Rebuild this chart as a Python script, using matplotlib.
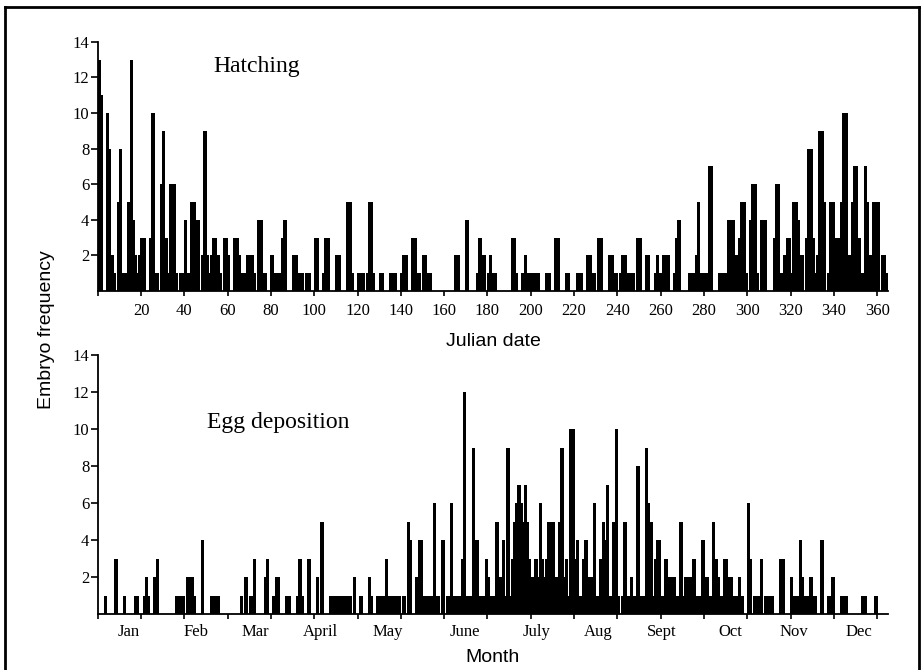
import matplotlib.pyplot as plt
import numpy as np
from matplotlib.lines import Line2D

# daily counts, day 1 .. 365
hatching = [
    13, 11, 0, 0, 10, 8, 2, 1, 0, 5,
    8, 1, 1, 1, 5, 13, 4, 2, 1, 2,
    3, 3, 0, 0, 3, 10, 1, 1, 0, 6,
    9, 3, 1, 6, 6, 6, 1, 0, 1, 1,
    4, 1, 1, 5, 5, 4, 4, 0, 2, 9,
    2, 1, 2, 3, 3, 2, 1, 0, 3, 3,
    2, 0, 0, 3, 3, 2, 1, 1, 1, 2,
    2, 2, 1, 0, 4, 4, 1, 1, 0, 0,
    2, 1, 1, 1, 1, 3, 4, 0, 0, 0,
    2, 2, 0, 1, 1, 0, 1, 1, 0, 0,
    3, 3, 0, 0, 1, 3, 3, 0, 0, 0,
    2, 2, 0, 0, 0, 5, 5, 1, 0, 0,
    1, 1, 1, 0, 1, 5, 5, 1, 0, 0,
    1, 1, 0, 0, 0, 1, 1, 1, 0, 0,
    1, 2, 2, 0, 0, 3, 3, 1, 1, 0,
    2, 2, 1, 1, 0, 0, 0, 0, 0, 0,
    0, 0, 0, 0, 0, 2, 2, 0, 0, 0,
    4, 0, 0, 0, 0, 1, 3, 2, 2, 0,
    1, 2, 1, 1, 0, 0, 0, 0, 0, 0,
    0, 3, 3, 1, 0, 0, 1, 2, 1, 1,
    1, 1, 1, 1, 0, 0, 0, 1, 1, 0,
    0, 3, 3, 0, 0, 0, 1, 1, 0, 0,
    0, 1, 1, 1, 0, 0, 2, 2, 1, 1,
    0, 3, 3, 0, 0, 0, 2, 2, 1, 1,
    0, 1, 2, 2, 1, 1, 1, 1, 0, 3,
    3, 0, 0, 2, 2, 0, 0, 1, 2, 1,
    1, 2, 2, 2, 0, 0, 1, 3, 4, 0,
    0, 0, 0, 1, 1, 1, 2, 5, 1, 1,
    0, 1, 7, 7, 0, 0, 0, 1, 1, 1,
    1, 4, 4, 4, 2, 2, 3, 5, 5, 1,
    0, 4, 6, 6, 1, 0, 4, 4, 4, 0,
    0, 0, 3, 6, 6, 1, 0, 2, 3, 3,
    1, 5, 5, 4, 2, 2, 0, 3, 8, 8,
    3, 1, 2, 9, 9, 5, 0, 1, 5, 5,
    1, 3, 3, 5, 10, 10, 1, 2, 5, 7,
    7, 3, 1, 1, 7, 5, 2, 2, 5, 5,
    5, 0, 2, 2, 1,
]

egg_deposition = [
    0, 0, 0, 1, 0, 0, 0, 0, 3, 0,
    0, 0, 1, 0, 0, 0, 0, 1, 1, 0,
    0, 1, 2, 1, 0, 0, 2, 3, 0, 0,
    0, 0, 0, 0, 0, 0, 1, 1, 1, 1,
    0, 2, 2, 2, 1, 0, 0, 0, 4, 0,
    0, 0, 1, 1, 1, 1, 0, 0, 0, 0,
    0, 0, 0, 0, 0, 0, 1, 0, 2, 0,
    1, 1, 3, 0, 0, 0, 0, 2, 3, 0,
    0, 1, 2, 2, 0, 0, 0, 1, 1, 0,
    0, 0, 1, 3, 1, 0, 0, 3, 0, 0,
    0, 2, 0, 5, 0, 0, 0, 1, 1, 1,
    1, 1, 1, 1, 1, 1, 1, 0, 2, 0,
    0, 1, 0, 0, 0, 2, 1, 0, 0, 1,
    1, 1, 1, 3, 1, 1, 1, 1, 1, 1,
    0, 1, 0, 5, 4, 0, 0, 2, 4, 4,
    1, 1, 1, 1, 1, 6, 1, 1, 0, 4,
    0, 1, 1, 6, 1, 1, 1, 1, 3, 12,
    1, 1, 1, 9, 4, 4, 1, 1, 1, 3,
    2, 1, 1, 1, 5, 2, 2, 4, 1, 9,
    1, 3, 5, 6, 7, 6, 5, 7, 5, 3,
    2, 2, 3, 2, 6, 3, 2, 3, 5, 5,
    5, 2, 2, 5, 9, 2, 3, 1, 10, 10,
    3, 4, 1, 1, 3, 4, 2, 2, 2, 6,
    1, 1, 3, 5, 4, 7, 1, 1, 5, 10,
    1, 0, 1, 5, 1, 1, 2, 1, 1, 8,
    1, 1, 1, 9, 6, 5, 1, 3, 4, 4,
    1, 1, 3, 2, 2, 2, 2, 1, 1, 5,
    1, 2, 2, 2, 0, 3, 1, 1, 1, 4,
    2, 2, 1, 1, 5, 3, 2, 1, 1, 3,
    3, 2, 2, 1, 1, 1, 2, 1, 0, 0,
    6, 3, 0, 1, 1, 1, 3, 0, 1, 1,
    1, 1, 0, 0, 0, 3, 3, 0, 0, 0,
    2, 1, 0, 1, 4, 2, 1, 1, 1, 2,
    1, 1, 0, 0, 4, 0, 0, 1, 1, 2,
    0, 0, 0, 1, 1, 1, 0, 0, 0, 0,
    0, 0, 0, 1, 1, 0, 0, 0, 0, 1,
    0, 0, 0, 0, 0,
]

days = np.arange(1, len(hatching) + 1)
julian_ticks = list(range(0, 361, 20))
julian_labels = [''] + [str(t) for t in julian_ticks[1:]]
months = ['Jan', 'Feb', 'Mar', 'April', 'May', 'June',
          'July', 'Aug', 'Sept', 'Oct', 'Nov', 'Dec']
month_pos = [14.5, 45.5, 73, 103, 134, 169.5, 202.5, 231, 260.5, 292, 321.5, 351.5]
y_ticks = [2, 4, 6, 8, 10, 12, 14]

serif = 'Liberation Serif'
sans = 'Liberation Sans'
W, H = 923, 670

fig = plt.figure(figsize=(W / 100, H / 100), dpi=100)
ax1 = fig.add_axes([97.7 / W, 1 - 291 / H, 790.3 / W, 249.3 / H])
ax2 = fig.add_axes([97.7 / W, 1 - 614 / H, 790.3 / W, 259 / H])

for ax, vals in ((ax1, hatching), (ax2, egg_deposition)):
    ax.bar(days - 0.5, vals, width=1.6, color='black', linewidth=0)
    ax.set_xlim(0, 365)
    ax.set_ylim(0, 14)
    ax.set_yticks(y_ticks)
    ax.set_yticklabels([str(v) for v in y_ticks], fontfamily=serif, fontsize=12)
    ax.set_xticks(julian_ticks)
    for s in ('top', 'right'):
        ax.spines[s].set_visible(False)
    ax.spines['left'].set_linewidth(1.3)
    ax.spines['bottom'].set_linewidth(1.3)
    ax.tick_params(axis='y', direction='out', length=5, width=1.2, pad=1)
    ax.tick_params(axis='x', which='major', direction='out', length=3.5, width=1.2, pad=5)

ax1.set_xticklabels(julian_labels, fontfamily=serif, fontsize=12)

# month names sit between the day ticks
ax2.set_xticklabels([])
ax2.set_xticks(month_pos, minor=True)
ax2.set_xticklabels(months, minor=True, fontfamily=serif, fontsize=12)
ax2.tick_params(axis='x', which='minor', length=0, pad=7)

ax1.text(213 / W, 1 - 71.7 / H, 'Hatching', transform=fig.transFigure,
         fontfamily=serif, fontsize=17, va='baseline', ha='left')
ax2.text(207 / W, 1 - 428 / H, 'Egg deposition', transform=fig.transFigure,
         fontfamily=serif, fontsize=17, va='baseline', ha='left')

fig.text(493 / W, 1 - 341 / H, 'Julian date', fontfamily=sans, fontsize=14,
         ha='center', va='center')
fig.text(493 / W, 1 - 657 / H, 'Month', fontfamily=sans, fontsize=14,
         ha='center', va='center')
fig.text(47 / W, 1 - 330 / H, 'Embryo frequency', fontfamily=sans, fontsize=14,
         rotation=90, ha='center', va='center')

# outer frame
x0, x1, ytop = 5 / W, 919 / W, 1 - 7 / H
fig.add_artist(Line2D([x0, x0], [0, ytop], color='black', lw=2))
fig.add_artist(Line2D([x0, x1], [ytop, ytop], color='black', lw=2))
fig.add_artist(Line2D([x1, x1], [0, ytop], color='black', lw=2))

fig.savefig('out.png', dpi=100)
